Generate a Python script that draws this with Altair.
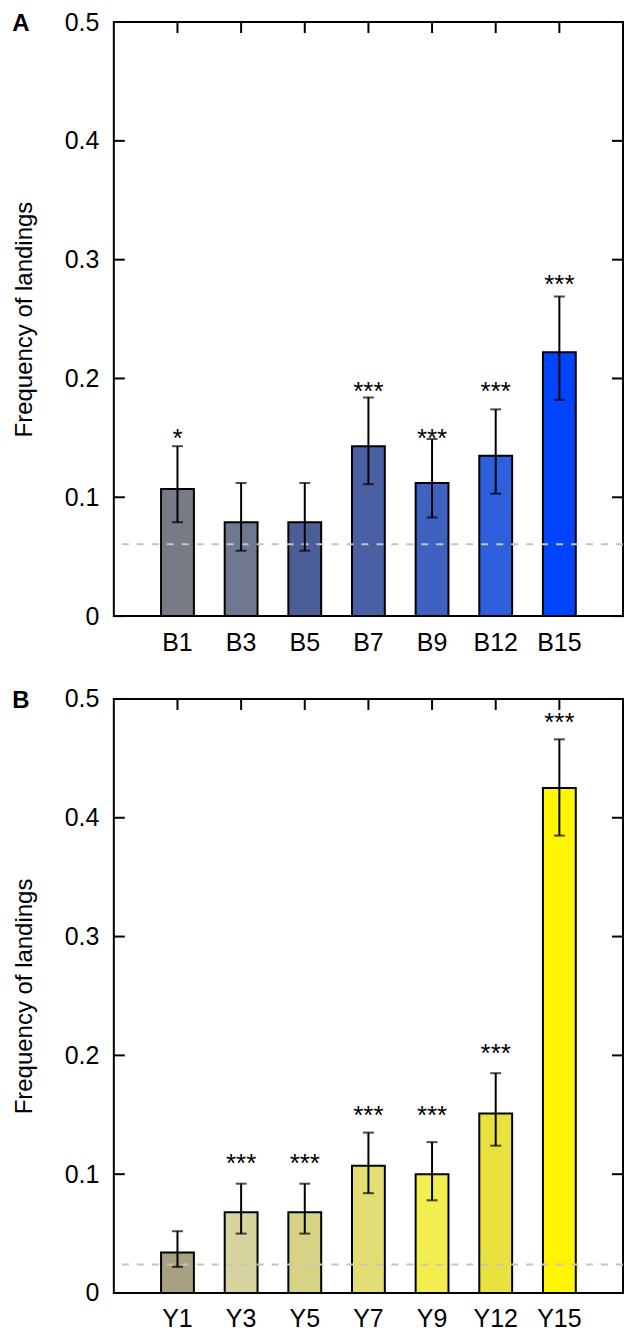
import altair as alt
import pandas as pd

# Panel A (blue series)
cats_a = ["B1", "B3", "B5", "B7", "B9", "B12", "B15"]
vals_a = [0.107, 0.079, 0.079, 0.143, 0.112, 0.135, 0.222]
low_a = [0.079, 0.055, 0.055, 0.111, 0.083, 0.103, 0.182]
high_a = [0.143, 0.112, 0.112, 0.184, 0.149, 0.174, 0.269]
stars_a = ["*", "", "", "***", "***", "***", "***"]
star_y_a = [0.154, None, None, 0.194, 0.154, 0.194, 0.284]
colors_a = ["#767b86", "#707890", "#4c5e98", "#4a60a5", "#3f61c0", "#2e5fdc", "#0044ff"]
chance_a = [0.0604]

# Panel B (yellow series)
cats_b = ["Y1", "Y3", "Y5", "Y7", "Y9", "Y12", "Y15"]
vals_b = [0.034, 0.068, 0.068, 0.107, 0.100, 0.151, 0.425]
low_b = [0.022, 0.050, 0.050, 0.084, 0.078, 0.124, 0.385]
high_b = [0.052, 0.092, 0.092, 0.135, 0.127, 0.185, 0.466]
stars_b = ["", "***", "***", "***", "***", "***", "***"]
star_y_b = [None, 0.114, 0.114, 0.154, 0.154, 0.206, 0.485]
colors_b = ["#a8a17f", "#d8d4a0", "#d6d384", "#e2de74", "#f3ee50", "#e9e23e", "#fff500"]
chance_b = [0.0239]

y_ticks = [0, 0.1, 0.2, 0.3, 0.4, 0.5]

W, H = 510, 595
FS = 25
TICK = 11


def panel(letter, cats, vals, low, high, stars, star_y, colors, chance):
    df = pd.DataFrame({"cat": cats, "value": vals, "low": low, "high": high,
                       "stars": stars, "star_y": star_y, "color": colors})
    tdf = pd.DataFrame({"t": y_ticks})
    cdf = pd.DataFrame({"chance": chance})
    ysc = alt.Scale(domain=[0, 0.5], nice=False, zero=True)
    yax = alt.Axis(values=y_ticks, ticks=False, domain=False, grid=False,
                   labelExpr="datum.value == 0 ? '0' : format(datum.value, '.1f')",
                   labelFontSize=FS, labelPadding=15,
                   title="Frequency of landings", titleFontSize=24,
                   titleFontWeight="normal", titlePadding=28)

    def Y(field):
        return alt.Y(field, scale=ysc, axis=yax, title="Frequency of landings")

    xs = alt.X("cat:N", sort=cats, title=None,
               scale=alt.Scale(paddingInner=0.484, paddingOuter=0.742),
               axis=alt.Axis(title=None, labelAngle=0, ticks=False, domain=False,
                             labelPadding=14, labelFontSize=FS))
    base = alt.Chart(df)
    bars = base.mark_bar(stroke="black", strokeWidth=2).encode(
        x=xs, y=Y("value:Q"), color=alt.Color("color:N", scale=None))
    chance_line = alt.Chart(cdf).mark_rule(color="#c4c4c4", strokeDash=[7, 8], strokeWidth=2).encode(
        y=Y("chance:Q"))
    err = base.mark_rule(color="black", strokeWidth=2).encode(
        x=xs, y=Y("low:Q"), y2="high:Q")
    cap_lo = base.mark_tick(color="black", size=11, thickness=2, orient="horizontal").encode(
        x=xs, y=Y("low:Q"))
    cap_hi = base.mark_tick(color="black", size=11, thickness=2, orient="horizontal").encode(
        x=xs, y=Y("high:Q"))
    star_txt = base.transform_filter("datum.stars != ''").mark_text(
        fontSize=26, baseline="middle", dy=6, color="black").encode(
        x=xs, y=Y("star_y:Q"), text="stars:N")
    lticks = alt.Chart(tdf).mark_rule(color="black", strokeWidth=2).encode(
        y=Y("t:Q"), x=alt.value(0), x2=alt.value(TICK))
    rticks = alt.Chart(tdf).mark_rule(color="black", strokeWidth=2).encode(
        y=Y("t:Q"), x=alt.value(W - TICK), x2=alt.value(W))
    tticks = base.mark_rule(color="black", strokeWidth=2).encode(
        x=xs, y=alt.value(0), y2=alt.value(TICK))
    return alt.layer(bars, chance_line, err, cap_lo, cap_hi, star_txt, lticks, rticks, tticks).properties(
        width=W, height=H,
        title=alt.TitleParams(letter, anchor="start", frame="bounds", fontSize=24,
                              fontWeight="bold", offset=0, dy=26, color="black"))


pa = panel("A", cats_a, vals_a, low_a, high_a, stars_a, star_y_a, colors_a, chance_a)
pb = panel("B", cats_b, vals_b, low_b, high_b, stars_b, star_y_b, colors_b, chance_b)

chart = alt.vconcat(pa, pb, spacing=30).configure(
    font="Liberation Sans",
    padding={"left": 3, "top": 0, "right": 0, "bottom": 0},
).configure_view(stroke="black", strokeWidth=2).configure_axis(
    labelColor="black", titleColor="black", labelFont="Liberation Sans", titleFont="Liberation Sans")

chart.save("out.html", embed_options={"renderer": "svg", "actions": False})
